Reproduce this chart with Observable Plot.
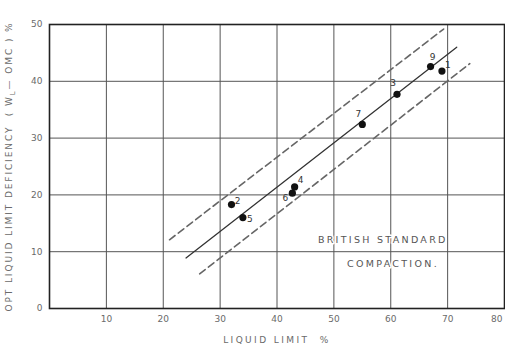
<!DOCTYPE html>
<html><head><meta charset="utf-8">
<script src="https://cdn.jsdelivr.net/npm/d3@7"></script>
<script src="https://cdn.jsdelivr.net/npm/@observablehq/plot@0.6"></script>
<style>
html,body{margin:0;padding:0;background:#fff;}
svg{display:block;}
</style>
</head><body>
<div id="chart"></div>
<script>
// Data
const pointLabels = ["2", "5", "6", "4", "7", "3", "9", "1"];
const liquidLimit = [32.0, 34.0, 42.7, 43.1, 55.0, 61.1, 67.0, 69.0];
const deficiency  = [18.3, 16.0, 20.3, 21.4, 32.4, 37.7, 42.6, 41.8];

const fitLineX   = [24.0, 71.6];
const fitLineY   = [8.9, 46.0];
const upperLineX = [21.1, 69.3];
const upperLineY = [12.1, 49.2];
const lowerLineX = [26.4, 73.9];
const lowerLineY = [6.1, 43.1];

const xTicks = [10, 20, 30, 40, 50, 60, 70, 80];
const yTicks = [0, 10, 20, 30, 40, 50];
const xTitle = "LIQUID LIMIT  %";
const yTitlePre = "OPT LIQUID LIMIT DEFICIENCY  ( W";
const yTitleSub = "L";
const yTitlePost = "— OMC ) %";
const noteLines = ["BRITISH STANDARD", "COMPACTION."];
const noteX = [58.6, 60.4];
const noteY = [12.0, 7.9];

const points = pointLabels.map((l, i) => ({label: l, x: liquidLimit[i], y: deficiency[i]}));
const line = (xs, ys) => xs.map((x, i) => ({x, y: ys[i]}));
const notes = noteLines.map((t, i) => ({t, x: noteX[i], y: noteY[i]}));
const labelOff = {"2": [6, -3], "5": [7, 1], "6": [-7, 5], "4": [6, -7], "7": [-4, -10], "3": [-4, -11], "9": [2, -9], "1": [6, -6]};

const grey = "#6a6a6a";
const chart = Plot.plot({
  width: 505,
  height: 349,
  marginLeft: 49,
  marginRight: 1,
  marginTop: 24,
  marginBottom: 41,
  style: {fontFamily: "DejaVu Sans, sans-serif", fontSize: "9px", color: grey, background: "#fff"},
  x: {domain: [0, 80]},
  y: {domain: [0, 50]},
  marks: [
    Plot.ruleX(xTicks.filter(d => d < 80), {stroke: "#555", strokeWidth: 1}),
    Plot.ruleY(yTicks.filter(d => d > 0 && d < 50), {stroke: "#555", strokeWidth: 1}),
    Plot.frame({stroke: "#222", strokeWidth: 1.6}),
    Plot.axisX(xTicks.filter(d => d < 80), {tickSize: 0, tickPadding: 7, fontSize: 9, fill: grey, label: null}),
    Plot.axisX([80], {tickSize: 0, tickPadding: 7, fontSize: 9, fill: grey, label: null, textAnchor: "end", dx: -2}),
    Plot.axisX({ticks: [], tickSize: 0, label: xTitle, labelAnchor: "center", labelOffset: 34, labelArrow: false,
      fontSize: 9, fill: grey, dx: -10}),
    Plot.axisY({ticks: yTicks, tickSize: 0, tickPadding: 7, fontSize: 9, fill: grey,
      label: yTitlePre + yTitleSub + yTitlePost, labelAnchor: "center", labelOffset: 44, labelArrow: false}),
    Plot.line(line(upperLineX, upperLineY), {x: "x", y: "y", stroke: "#666", strokeWidth: 1.6, strokeDasharray: "7,4"}),
    Plot.line(line(lowerLineX, lowerLineY), {x: "x", y: "y", stroke: "#666", strokeWidth: 1.6, strokeDasharray: "7,4"}),
    Plot.line(line(fitLineX, fitLineY), {x: "x", y: "y", stroke: "#333", strokeWidth: 1.3}),
    Plot.dot(points, {x: "x", y: "y", r: 3.6, fill: "#111", stroke: "none"}),
    ...pointLabels.map(l => Plot.text(points.filter(p => p.label === l), {x: "x", y: "y", text: "label",
      dx: labelOff[l][0], dy: labelOff[l][1], fontSize: 9, fill: "#333"})),
    Plot.text(notes, {x: "x", y: "y", text: "t", fontSize: 9.5, fill: "#555", stroke: "#fff", strokeWidth: 3})
  ]
});
const allText = () => Array.from(chart.querySelectorAll("text"));
// Subscript L in the y-axis title and wider letter spacing
const ytxt = allText().find(t => t.textContent === yTitlePre + yTitleSub + yTitlePost);
if (ytxt) {
  ytxt.textContent = "";
  ytxt.setAttribute("letter-spacing", "1.9px");
  ytxt.setAttribute("font-size", "9");
  const ns = "http://www.w3.org/2000/svg";
  const a = document.createElementNS(ns, "tspan"); a.textContent = yTitlePre;
  const b = document.createElementNS(ns, "tspan"); b.textContent = yTitleSub; b.setAttribute("dy", "3"); b.setAttribute("font-size", "7");
  const c = document.createElementNS(ns, "tspan"); c.textContent = yTitlePost; c.setAttribute("dy", "-3");
  ytxt.append(a, b, c);
}
allText().filter(t => t.textContent === xTitle).forEach(t => t.setAttribute("letter-spacing", "2.4px"));
allText().filter(t => noteLines.includes(t.textContent)).forEach(t => t.setAttribute("letter-spacing", "2.3px"));
document.getElementById("chart").appendChild(chart);
</script>
</body></html>
